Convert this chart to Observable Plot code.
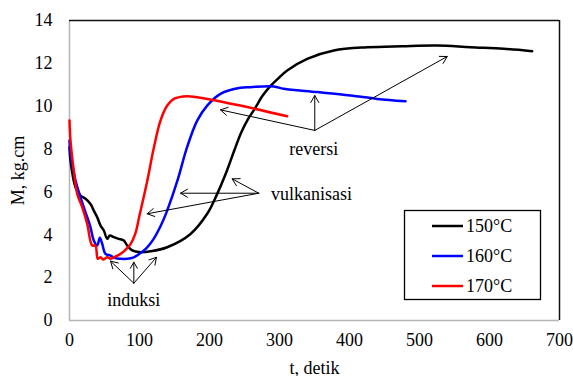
<!DOCTYPE html>
<html><head><meta charset="utf-8">
<script src="https://cdn.jsdelivr.net/npm/d3@7"></script>
<script src="https://cdn.jsdelivr.net/npm/@observablehq/plot@0.6"></script>
<style>
body{margin:0;background:#fff}
svg text{font-family:"Liberation Serif","Times New Roman","DejaVu Serif",serif !important;}
</style>
</head><body><div id="chart"></div>
<script>
// 150°C
const t150 = [0,1.4,8.6,15.7,22.9,30,34.7,39.6,44.3,49,53.9,57.6,63.3,70.4,77.6,82.4,89.6,101.4,115.7,139.6,172.9,196.7,211,225,235,245,255,265,275,285,300,311,339.6,377.6,425.3,475,525.3,572.9,620.4,661];
const m150 = [8.09,7.47,6.22,5.83,5.68,5.44,5.13,4.82,4.43,4.2,3.81,3.97,3.89,3.81,3.73,3.5,3.27,3.19,3.23,3.42,4.04,4.98,5.91,7.0,7.9,8.75,9.4,9.9,10.45,10.87,11.35,11.67,12.21,12.6,12.75,12.8,12.83,12.75,12.68,12.57];
// 160°C
const t160 = [0,1.4,8.6,15.7,22.9,30,34.7,39.6,43.3,46.7,51.4,58.6,65.7,72.9,82.4,91.9,101.4,110,120,130,138,153.9,168,182.4,196.7,215.7,244,258.6,291.9,306,353.9,401.4,439.6,480];
const m160 = [8.4,7.78,6.53,5.75,5.05,4.35,3.73,3.5,3.86,3.58,3.11,3.03,2.91,2.88,2.88,2.95,3.15,3.38,3.8,4.4,5.0,6.5,8.09,9.33,10.03,10.58,10.86,10.89,10.92,10.81,10.66,10.5,10.34,10.23];
// 170°C
const t170 = [0,1.4,6.1,11,18.1,25.3,32.4,37,40.4,44.3,48,53.9,58.6,63.3,72.9,80,87,94,100,111,120.4,130,139.6,149,168,196.7,244,311];
const m170 = [9.33,8.4,7.0,5.91,5.29,4.51,3.5,3.5,2.88,2.95,2.85,2.95,2.88,2.95,3.11,3.3,3.55,4.05,4.9,6.5,8.05,9.33,10.03,10.34,10.47,10.34,10.03,9.53];

const seriesNames = ["150°C","160°C","170°C"];
const seriesColors = ["#000000","#0000ff","#ff0000"];
const seriesT = [t150,t160,t170];
const seriesM = [m150,m160,m170];

// annotations: label, text position, arrow origin, arrow heads
const annLabels = ["induksi","vulkanisasi","reversi"];
const annTextT = [91.9, 288, 349];
const annTextM = [0.95, 5.9, 8.0];
const annTextAnchor = ["middle","start","middle"];
const annOriginT = [91.9, 270.4, 350.4];
const annOriginM = [1.74, 5.94, 8.87];
const annHeadT = [[58.6,91.9,124.3],[158.6,111,232.4],[350.4,215.7,539.6]];
const annHeadM = [[2.77,2.72,2.95],[5.94,4.98,6.61],[10.5,9.83,12.32]];

const xTicks = [0,100,200,300,400,500,600,700];
const yTicks = [0,2,4,6,8,10,12,14];

const data = [];
seriesNames.forEach((s,i)=>seriesT[i].forEach((t,j)=>data.push({series:s,t,m:seriesM[i][j]})));
const arrows = [];
annLabels.forEach((a,i)=>annHeadT[i].forEach((ht,j)=>arrows.push({x1:annOriginT[i],y1:annOriginM[i],x2:ht,y2:annHeadM[i][j]})));
const texts = annLabels.map((a,i)=>({label:a,t:annTextT[i],m:annTextM[i],anchor:annTextAnchor[i]}));

const W=573,H=376;
const plot = Plot.plot({
  width:W,height:H,
  marginLeft:69,marginRight:14,marginTop:20,marginBottom:56,
  style:{fontFamily:"'Liberation Serif', serif",fontSize:"18px",color:"#000",background:"#fff"},
  x:{domain:[0,700]},
  y:{domain:[0,14]},
  color:{domain:seriesNames,range:seriesColors},
  marks:[
    Plot.ruleX([0],{stroke:"#b5b5b5",strokeWidth:1.5}),
    Plot.ruleY([0],{stroke:"#b5b5b5",strokeWidth:1.5}),
    Plot.ruleY([14],{stroke:"#111",strokeWidth:1.5}),
    Plot.ruleX([700],{stroke:"#111",strokeWidth:1.5}),
    Plot.axisX({ticks:xTicks,tickSize:0,tickPadding:13,label:"t, detik",labelAnchor:"center",labelArrow:"none",labelOffset:53,fontSize:18}),
    Plot.axisY({ticks:yTicks,tickSize:0,tickPadding:17,label:"M, kg.cm",labelAnchor:"center",labelArrow:"none",labelOffset:58,fontSize:18}),
    Plot.line(data,{x:"t",y:"m",z:"series",stroke:"series",strokeWidth:2.5,curve:"catmull-rom"}),
    Plot.arrow(arrows,{x1:"x1",y1:"y1",x2:"x2",y2:"y2",stroke:"#000",strokeWidth:1,headLength:12}),
    Plot.text(texts.filter(d=>d.anchor==="middle"),{x:"t",y:"m",text:"label",textAnchor:"middle",fontSize:18,fill:"#000"}),
    Plot.text(texts.filter(d=>d.anchor==="start"),{x:"t",y:"m",text:"label",textAnchor:"start",fontSize:18,fill:"#000"})
  ]
});
document.getElementById("chart").appendChild(plot);

// legend box
const svg = d3.select(plot);
const g = svg.append("g").attr("font-size",18).attr("text-anchor","start");
g.append("rect").attr("x",404.5).attr("y",210.5).attr("width",136).attr("height",89).attr("fill","#fff").attr("stroke","#000").attr("stroke-width",1.3);
seriesNames.forEach((s,i)=>{
  const yy = 226 + i*30;
  g.append("line").attr("x1",432).attr("x2",463).attr("y1",yy).attr("y2",yy).attr("stroke",seriesColors[i]).attr("stroke-width",2.5);
  g.append("text").attr("x",466).attr("y",yy).attr("dy","0.35em").attr("text-anchor","start").attr("fill","#000").text(s);
});
</script>
</body></html>
